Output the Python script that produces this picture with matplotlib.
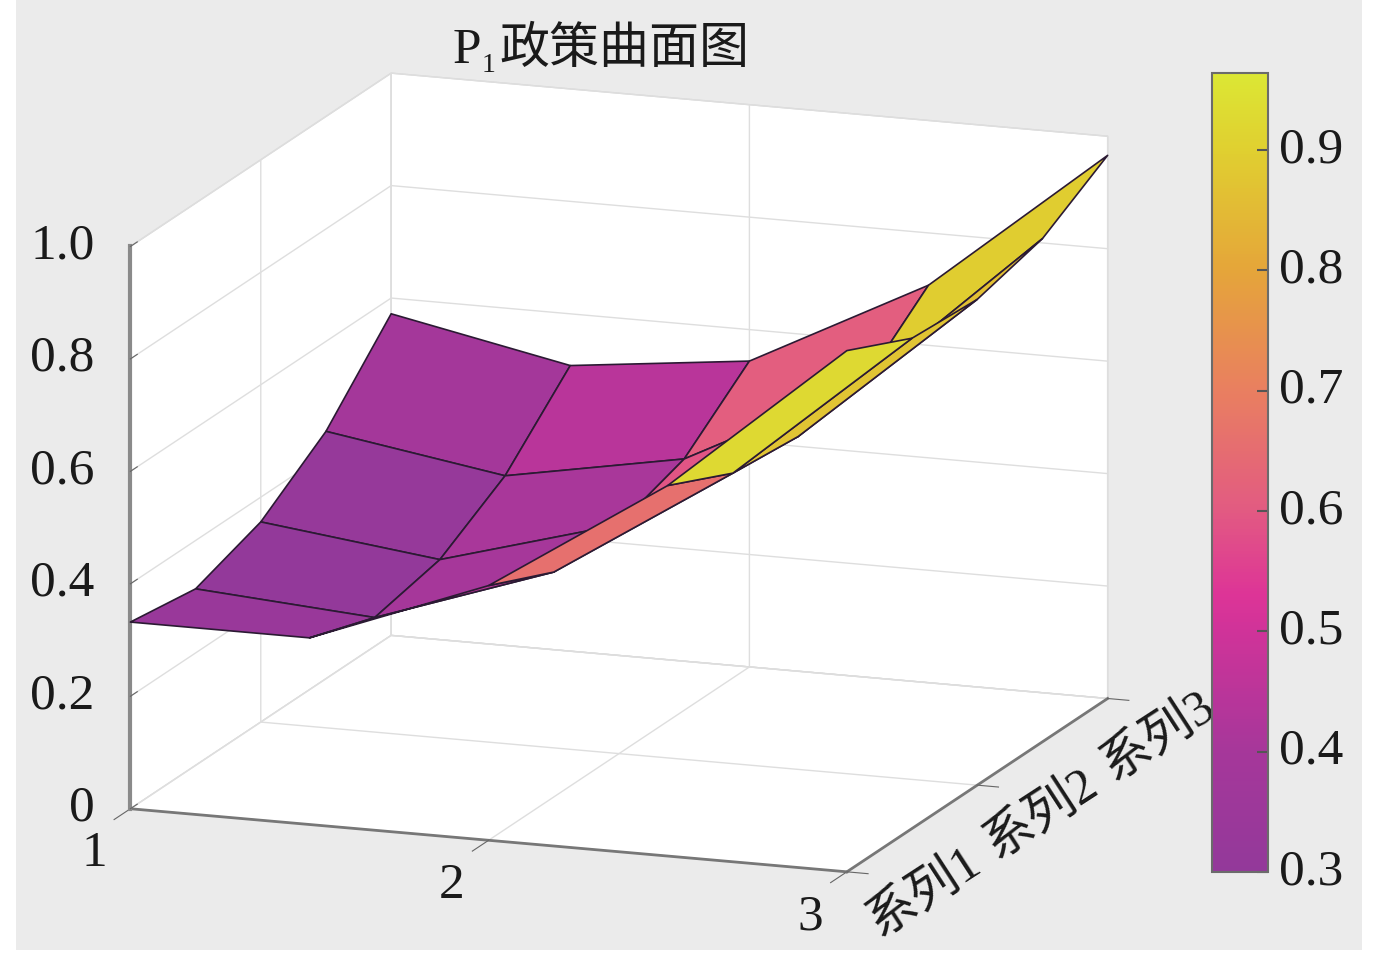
import numpy as np
import matplotlib
matplotlib.use("Agg")
import matplotlib.pyplot as plt
from matplotlib.colors import LinearSegmentedColormap, Normalize
from matplotlib.cm import ScalarMappable
from matplotlib.patches import Rectangle
from matplotlib.ticker import NullFormatter
from mpl_toolkits.mplot3d import proj3d

plt.rcParams['font.family'] = ['Liberation Serif', 'Noto Sans CJK SC']
plt.rcParams['grid.color'] = '#dedede'
plt.rcParams['grid.linewidth'] = 1.0

x_vals = [1, 1.5, 2, 2.5, 3]
y_vals = [1, 1.5, 2, 2.5, 3]
# rows follow y (series), columns follow x
z_rows = [
    [0.332, 0.332, 0.453, 0.659, 0.927],
    [0.314, 0.291, 0.400, 0.604, 0.872],
    [0.356, 0.317, 0.407, 0.592, 0.864],
    [0.440, 0.389, 0.447, 0.609, 0.895],
    [0.572, 0.508, 0.544, 0.707, 0.966],
]
z_ticks = [0, 0.2, 0.4, 0.6, 0.8, 1.0]
z_labels = ['0', '0.2', '0.4', '0.6', '0.8', '1.0']
x_ticks = [1, 2, 3]
x_labels = ['1', '2', '3']
y_ticks = [1, 2, 3]
y_labels = ['系列1', '系列2', '系列3']
cbar_ticks = [0.3, 0.4, 0.5, 0.6, 0.7, 0.8, 0.9]
cmap_levels = [0.3, 0.4, 0.5, 0.53, 0.6, 0.7, 0.8, 0.9, 0.964]
cmap_colors = ['#93399a', '#a6379a', '#d03399', '#dd3497', '#e25a82',
               '#e97f60', '#e5a53a', '#e0cf30', '#dce734']

W, H = 1378, 956
TEXT = '#1a1a1a'
fig = plt.figure(figsize=(W / 100, H / 100), dpi=100, facecolor='white')
fig.add_artist(Rectangle((16 / W, 6 / H), 1346 / W, 950 / H, transform=fig.transFigure,
                         facecolor='#ebebeb', edgecolor='none', zorder=-1))

vmin, vmax = cmap_levels[0], cmap_levels[-1]
norm = Normalize(vmin, vmax)
pos = [(l - vmin) / (vmax - vmin) for l in cmap_levels]
cmap = LinearSegmentedColormap.from_list('p1', list(zip(pos, cmap_colors)))

# axes made larger than the box so the surface is not clipped
S = 1200
cx, cy = 602.8, 488.7
ax = fig.add_axes([(cx - S / 2) / W, (H - cy - S / 2) / H, S / W, S / H],
                  projection='3d', proj_type='ortho')
ax.set_facecolor('none')
ax.view_init(elev=14, azim=-70)
ax.set_box_aspect((1, 1, 0.76), zoom=0.9903)

X, Y = np.meshgrid(x_vals, y_vals)
Z = np.array(z_rows)
# each face takes the colour of its corner at the next x
face_z = np.roll(Z, -1, axis=1)
surf = ax.plot_surface(X, Y, Z, rstride=1, cstride=1, facecolors=cmap(norm(face_z)),
                       shade=False, linewidth=1.2)
surf.set_edgecolor('#2b1a33')

ax.set_xlim(1, 3)
ax.set_ylim(1, 3)
ax.set_zlim(0, 1)
ax.set_xticks(x_ticks)
ax.set_yticks(y_ticks)
ax.set_zticks(z_ticks)
ax.zaxis.set_ticks_position('lower')
ax.tick_params(axis='both', color='#666666', width=1.5)
for axis in (ax.xaxis, ax.yaxis, ax.zaxis):
    axis.set_major_formatter(NullFormatter())
    axis.set_tick_params(label1On=False, label2On=False)


# tick labels by hand, mplot3d pads them in the wrong direction for this view
def label3d(x, y, z, s, **kw):
    a, b, _ = proj3d.proj_transform(x, y, z, ax.get_proj())
    ax.text2D(a, b, s, transform=ax.transData, color=TEXT, va='center', **kw)


for z, lab in zip(z_ticks, z_labels):
    label3d(1 - 0.1, 1, z - 0.005, lab, fontsize=37, ha='right')
for x, lab in zip(x_ticks, x_labels):
    label3d(x, 1 - 0.28, -0.037, lab, fontsize=37, ha='center')
for y, lab in zip(y_ticks, y_labels):
    label3d(3 + 0.18, 2 + (y - 2) * 0.9, -0.043, lab, fontsize=36, ha='center', rotation=33)

for axis in (ax.xaxis, ax.yaxis, ax.zaxis):
    axis.pane.set_facecolor('white')
    axis.pane.set_alpha(1)
    axis.pane.set_edgecolor('#d8d8d8')
    axis.line.set_color('#777777')
    axis.line.set_linewidth(2)
ax.xaxis._axinfo['tick'].update(inward_factor=0.78, outward_factor=0)
ax.yaxis._axinfo['tick'].update(inward_factor=0.37, outward_factor=0)
ax.zaxis._axinfo['tick'].update(inward_factor=0, outward_factor=0.33)
ax.zaxis.line.set_linewidth(3)
ax.zaxis.line.set_color('#8a8a8a')

cax = fig.add_axes([1212 / W, (H - 872) / H, 56 / W, 799 / H])
cb = fig.colorbar(ScalarMappable(norm, cmap), cax=cax, ticks=cbar_ticks, format='%.1f')
cb.ax.tick_params(direction='in', length=8, width=1.5, color='#555555', labelsize=37,
                  pad=8, labelcolor=TEXT)
for t in cb.ax.get_yticklabels():
    t.set_va('center')
cb.outline.set_edgecolor('#6b6b6b')
cb.outline.set_linewidth(1.5)

fig.text(453 / W, (H - 63) / H, 'P', fontsize=37, color=TEXT)
fig.text(482 / W, (H - 72) / H, '1', fontsize=20, color=TEXT)
fig.text(499 / W, (H - 63) / H, '政策曲面图', fontsize=36, color=TEXT)

fig.savefig('out.png', dpi=100)
